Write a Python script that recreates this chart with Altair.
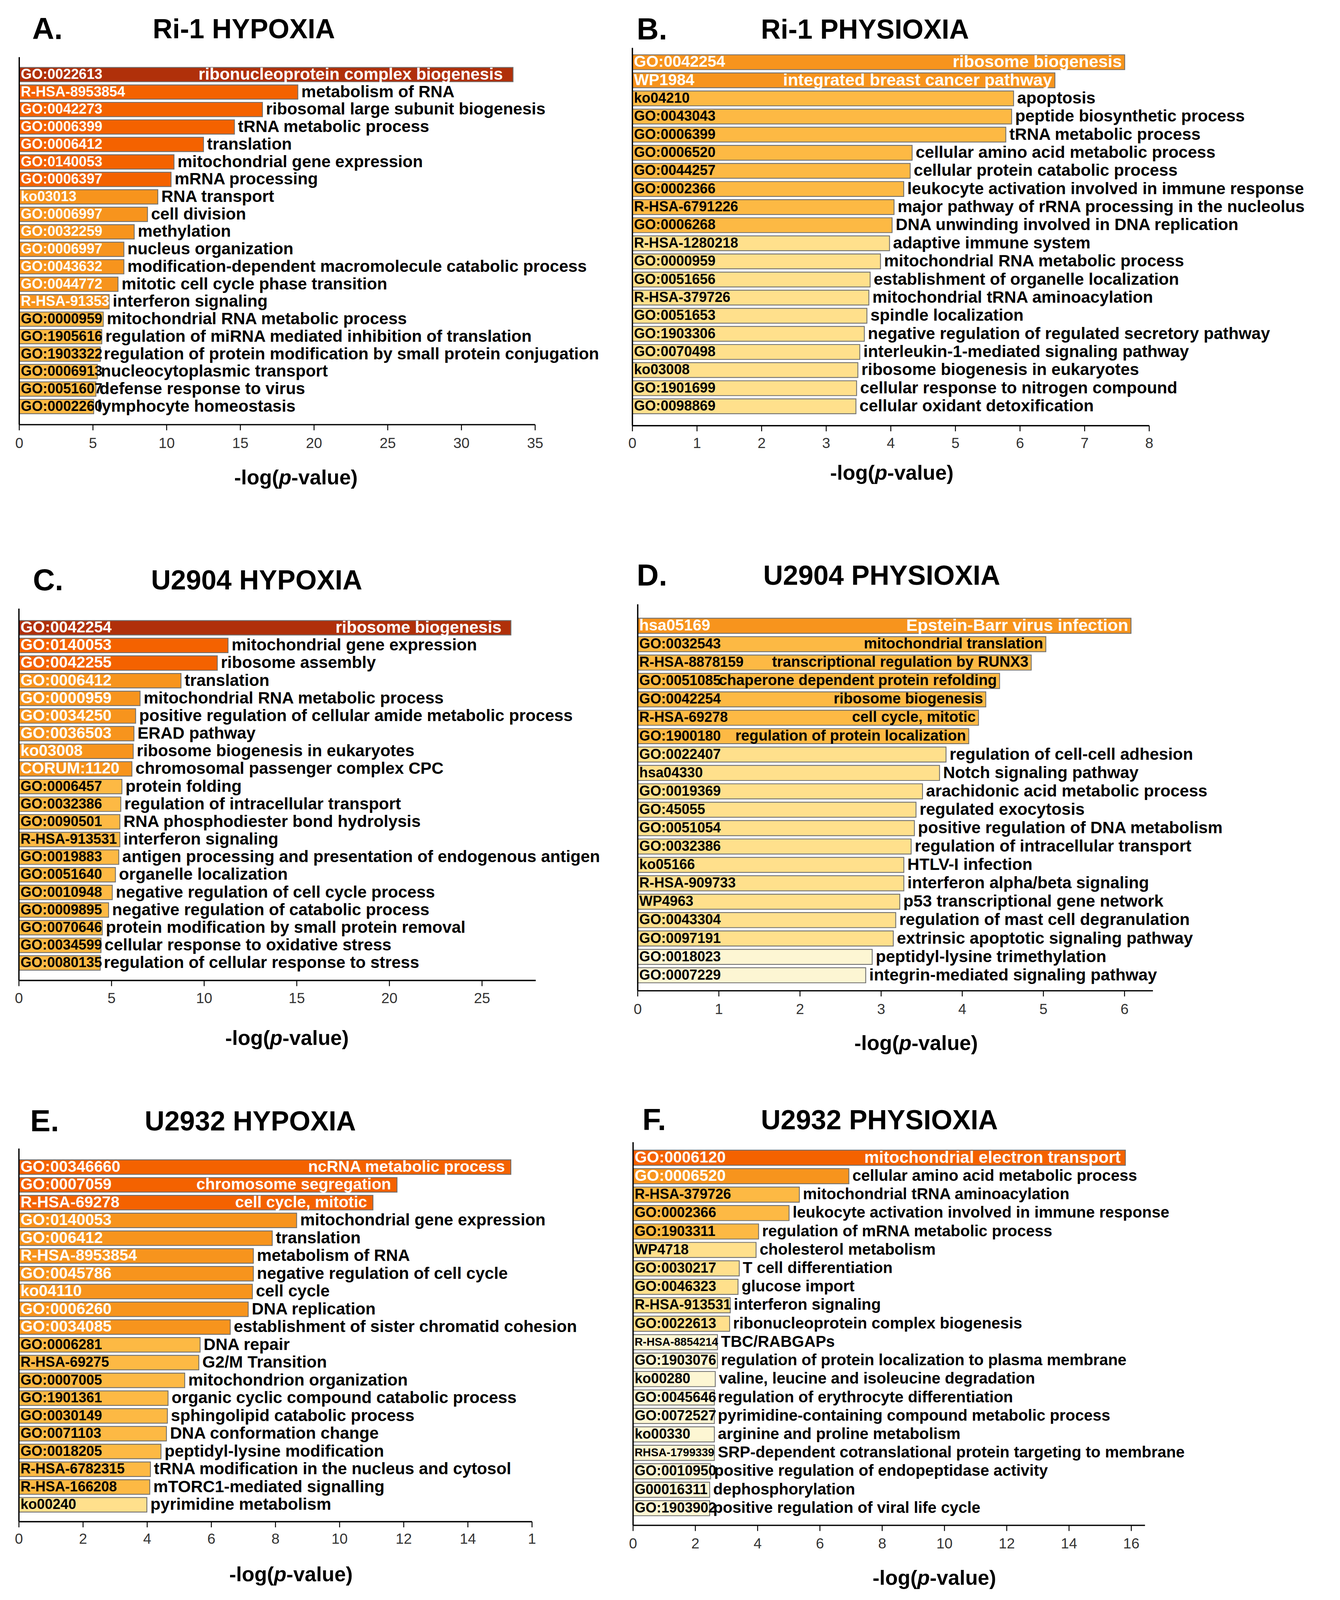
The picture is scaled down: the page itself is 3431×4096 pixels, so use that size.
import altair as alt
import pandas as pd

SC = 0.85


def px(v):
    return round(v * SC - 8, 2)


FONT = "Liberation Sans"
TIER_COLORS = ["#B0300A", "#F46200", "#F7941D", "#FDB944", "#FFE08C", "#FDF6D3"]

# ---------------- Panel A ----------------
A_letter, A_title = "A.", "Ri-1 HYPOXIA"
A_ids = ["GO:0022613", "R-HSA-8953854", "GO:0042273", "GO:0006399", "GO:0006412", "GO:0140053",
         "GO:0006397", "ko03013", "GO:0006997", "GO:0032259", "GO:0006997", "GO:0043632",
         "GO:0044772", "R-HSA-91353", "GO:0000959", "GO:1905616", "GO:1903322", "GO:0006913",
         "GO:0051607", "GO:0002260"]
A_terms = ["ribonucleoprotein complex biogenesis", "metabolism of RNA", "ribosomal large subunit biogenesis",
           "tRNA metabolic process", "translation", "mitochondrial gene expression", "mRNA processing",
           "RNA transport", "cell division", "methylation", "nucleus organization",
           "modification-dependent macromolecule catabolic process", "mitotic cell cycle phase transition",
           "interferon signaling", "mitochondrial RNA metabolic process",
           "regulation of miRNA mediated inhibition of translation",
           "regulation of protein modification by small protein conjugation", "nucleocytoplasmic transport",
           "defense response to virus", "lymphocyte homeostasis"]
A_vals = [33.5, 18.9, 16.5, 14.6, 12.5, 10.5, 10.3, 9.4, 8.7, 7.8, 7.1, 7.1, 6.7, 6.1, 5.7, 5.6, 5.5, 5.3, 5.2, 5.05]
A_tiers = [0, 1, 1, 1, 1, 1, 1, 2, 2, 2, 2, 2, 2, 2, 3, 3, 3, 3, 3, 3]
A_ticks = [0, 5, 10, 15, 20, 25, 30, 35]
A_tick_labels = ["0", "5", "10", "15", "20", "25", "30", "35"]

# ---------------- Panel B ----------------
B_letter, B_title = "B.", "Ri-1 PHYSIOXIA"
B_ids = ["GO:0042254", "WP1984", "ko04210", "GO:0043043", "GO:0006399", "GO:0006520", "GO:0044257",
         "GO:0002366", "R-HSA-6791226", "GO:0006268", "R-HSA-1280218", "GO:0000959", "GO:0051656",
         "R-HSA-379726", "GO:0051653", "GO:1903306", "GO:0070498", "ko03008", "GO:1901699", "GO:0098869"]
B_terms = ["ribosome biogenesis", "integrated breast cancer pathway", "apoptosis", "peptide biosynthetic process",
           "tRNA metabolic process", "cellular amino acid metabolic process", "cellular protein catabolic process",
           "leukocyte activation involved in immune response",
           "major pathway of rRNA processing in the nucleolus", "DNA unwinding involved in DNA replication",
           "adaptive immune system", "mitochondrial RNA metabolic process",
           "establishment of organelle localization", "mitochondrial tRNA aminoacylation", "spindle localization",
           "negative regulation of regulated secretory pathway", "interleukin-1-mediated signaling pathway",
           "ribosome biogenesis in eukaryotes", "cellular response to nitrogen compound",
           "cellular oxidant detoxification"]
B_vals = [7.62, 6.54, 5.90, 5.87, 5.78, 4.33, 4.30, 4.20, 4.05, 4.02, 3.98, 3.84, 3.68, 3.66, 3.63, 3.59,
          3.52, 3.49, 3.47, 3.46]
B_tiers = [2, 2, 3, 3, 3, 3, 3, 3, 3, 3, 4, 4, 4, 4, 4, 4, 4, 4, 4, 4]
B_ticks = [0, 1, 2, 3, 4, 5, 6, 7, 8]
B_tick_labels = ["0", "1", "2", "3", "4", "5", "6", "7", "8"]

# ---------------- Panel C ----------------
C_letter, C_title = "C.", "U2904 HYPOXIA"
C_ids = ["GO:0042254", "GO:0140053", "GO:0042255", "GO:0006412", "GO:0000959", "GO:0034250", "GO:0036503",
         "ko03008", "CORUM:1120", "GO:0006457", "GO:0032386", "GO:0090501", "R-HSA-913531", "GO:0019883",
         "GO:0051640", "GO:0010948", "GO:0009895", "GO:0070646", "GO:0034599", "GO:0080135"]
C_terms = ["ribosome biogenesis", "mitochondrial gene expression", "ribosome assembly", "translation",
           "mitochondrial RNA metabolic process", "positive regulation of cellular amide metabolic process",
           "ERAD pathway", "ribosome biogenesis in eukaryotes", "chromosomal passenger complex CPC",
           "protein folding", "regulation of intracellular transport", "RNA phosphodiester bond hydrolysis",
           "interferon signaling", "antigen processing and presentation of endogenous antigen",
           "organelle localization", "negative regulation of cell cycle process",
           "negative regulation of catabolic process", "protein modification by small protein removal",
           "cellular response to oxidative stress", "regulation of cellular response to stress"]
C_vals = [26.56, 11.29, 10.71, 8.75, 6.54, 6.30, 6.21, 6.17, 6.10, 5.56, 5.50, 5.45, 5.45, 5.39, 5.21,
          5.04, 4.84, 4.50, 4.43, 4.39]
C_tiers = [0, 1, 1, 2, 2, 2, 2, 2, 2, 3, 3, 3, 3, 3, 3, 3, 3, 3, 3, 3]
C_ticks = [0, 5, 10, 15, 20, 25]
C_tick_labels = ["0", "5", "10", "15", "20", "25"]

# ---------------- Panel D ----------------
D_letter, D_title = "D.", "U2904 PHYSIOXIA"
D_ids = ["hsa05169", "GO:0032543", "R-HSA-8878159", "GO:0051085", "GO:0042254", "R-HSA-69278",
         "GO:1900180", "GO:0022407", "hsa04330", "GO:0019369", "GO:45055", "GO:0051054", "GO:0032386",
         "ko05166", "R-HSA-909733", "WP4963", "GO:0043304", "GO:0097191", "GO:0018023", "GO:0007229"]
D_terms = ["Epstein-Barr virus infection", "mitochondrial translation", "transcriptional regulation by RUNX3",
           "chaperone dependent protein refolding", "ribosome biogenesis", "cell cycle, mitotic",
           "regulation of protein localization", "regulation of cell-cell adhesion", "Notch signaling pathway",
           "arachidonic acid metabolic process", "regulated exocytosis",
           "positive regulation of DNA metabolism", "regulation of intracellular transport",
           "HTLV-I infection", "interferon alpha/beta signaling", "p53 transcriptional gene network",
           "regulation of mast cell degranulation", "extrinsic apoptotic signaling pathway",
           "peptidyl-lysine trimethylation", "integrin-mediated signaling pathway"]
D_vals = [6.08, 5.03, 4.85, 4.46, 4.29, 4.20, 4.08, 3.80, 3.72, 3.51, 3.43, 3.41, 3.37, 3.28, 3.28, 3.23,
          3.18, 3.15, 2.89, 2.81]
D_tiers = [2, 3, 3, 3, 3, 3, 3, 4, 4, 4, 4, 4, 4, 4, 4, 4, 4, 4, 5, 5]
D_ticks = [0, 1, 2, 3, 4, 5, 6]
D_tick_labels = ["0", "1", "2", "3", "4", "5", "6"]

# ---------------- Panel E ----------------
E_letter, E_title = "E.", "U2932 HYPOXIA"
E_ids = ["GO:00346660", "GO:0007059", "R-HSA-69278", "GO:0140053", "GO:006412", "R-HSA-8953854",
         "GO:0045786", "ko04110", "GO:0006260", "GO:0034085", "GO:0006281", "R-HSA-69275", "GO:0007005",
         "GO:1901361", "GO:0030149", "GO:0071103", "GO:0018205", "R-HSA-6782315", "R-HSA-166208", "ko00240"]
E_terms = ["ncRNA metabolic process", "chromosome segregation", "cell cycle, mitotic",
           "mitochondrial gene expression", "translation", "metabolism of RNA",
           "negative regulation of cell cycle", "cell cycle", "DNA replication",
           "establishment of sister chromatid cohesion", "DNA repair", "G2/M Transition",
           "mitochondrion organization", "organic cyclic compound catabolic process",
           "sphingolipid catabolic process", "DNA conformation change", "peptidyl-lysine modification",
           "tRNA modification in the nucleus and cytosol", "mTORC1-mediated signalling",
           "pyrimidine metabolism"]
E_vals = [15.34, 11.79, 11.04, 8.66, 7.90, 7.31, 7.31, 7.28, 7.15, 6.59, 5.65, 5.61, 5.17, 4.65, 4.63,
          4.60, 4.43, 4.10, 4.08, 3.99]
E_tiers = [1, 1, 1, 2, 2, 2, 2, 2, 2, 2, 3, 3, 3, 3, 3, 3, 3, 3, 3, 4]
E_ticks = [0, 2, 4, 6, 8, 10, 12, 14, 16]
E_tick_labels = ["0", "2", "4", "6", "8", "10", "12", "14", "1"]

# ---------------- Panel F ----------------
F_letter, F_title = "F.", "U2932 PHYSIOXIA"
F_ids = ["GO:0006120", "GO:0006520", "R-HSA-379726", "GO:0002366", "GO:1903311", "WP4718", "GO:0030217",
         "GO:0046323", "R-HSA-913531", "GO:0022613", "R-HSA-8854214", "GO:1903076", "ko00280",
         "GO:0045646", "GO:0072527", "ko00330", "RHSA-1799339", "GO:0010950", "G00016311", "GO:1903902"]
F_terms = ["mitochondrial electron transport", "cellular amino acid metabolic process",
           "mitochondrial tRNA aminoacylation", "leukocyte activation involved in immune response",
           "regulation of mRNA metabolic process", "cholesterol metabolism", "T cell differentiation",
           "glucose import", "interferon signaling", "ribonucleoprotein complex biogenesis", "TBC/RABGAPs",
           "regulation of protein localization to plasma membrane",
           "valine, leucine and isoleucine degradation", "regulation of erythrocyte differentiation",
           "pyrimidine-containing compound metabolic process", "arginine and proline metabolism",
           "SRP-dependent cotranslational protein targeting to membrane",
           "positive regulation of endopeptidase activity", "dephosphorylation",
           "positive regulation of viral life cycle"]
F_vals = [15.81, 6.93, 5.34, 5.01, 4.03, 3.95, 3.41, 3.37, 3.12, 3.10, 2.71, 2.71, 2.64, 2.61, 2.61, 2.61,
          2.61, 2.49, 2.46, 2.46]
F_tiers = [1, 2, 3, 3, 3, 4, 4, 4, 4, 4, 5, 5, 5, 5, 5, 5, 5, 5, 5, 5]
F_ticks = [0, 2, 4, 6, 8, 10, 12, 14, 16]
F_tick_labels = ["0", "2", "4", "6", "8", "10", "12", "14", "16"]

# layout geometry of each panel, in reference pixels
GEOM = {
    "A": dict(x0=58, unit=44.4, xmax=35, r0=203, r1=1246, top=172, axis_y=1279, label_y=1337,
              tcx=891, tcy=1440, lx=97, hx=460, hy=91, n_inside=1, term=50, inside=50, inside_w=50,
              in_dx=-26, id_white=42.5, id_black=42.5),
    "B": dict(x0=1905, unit=194.6, xmax=8, r0=165, r1=1246, top=144, axis_y=1282, label_y=1337,
              tcx=2686, tcy=1426, lx=1918, hx=2292, hy=92, n_inside=2, term=50, inside=51, inside_w=51,
              in_dx=-7, id_white=47.5, id_black=42.5),
    "C": dict(x0=57, unit=55.8, xmax=27.9, r0=1869, r1=2922, top=1833, axis_y=2953, label_y=3008,
              tcx=864, tcy=3128, lx=99, hx=455, hy=1751, n_inside=1, term=50, inside=50, inside_w=50,
              in_dx=-24, id_white=47.5, id_black=42.5),
    "D": dict(x0=1921, unit=244.4, xmax=6.35, r0=1862, r1=2960, top=1820, axis_y=2984, label_y=3041,
              tcx=2759, tcy=3143, lx=1918, hx=2299, hy=1736, n_inside=7, term=50, inside=45, inside_w=51,
              in_dx=-7, id_white=47.5, id_black=42.5),
    "E": dict(x0=57, unit=96.6, xmax=16, r0=3493, r1=4554, top=3459, axis_y=4583, label_y=4637,
              tcx=876, tcy=4744, lx=91, hx=436, hy=3380, n_inside=3, term=50, inside=48, inside_w=48,
              in_dx=-15, id_white=47.5, id_black=42.5),
    "F": dict(x0=1907, unit=93.8, xmax=16.44, r0=3464, r1=4565, top=3440, axis_y=4594, label_y=4650,
              tcx=2814, tcy=4754, lx=1935, hx=2292, hy=3377, n_inside=1, term=47.5, inside=50, inside_w=50,
              in_dx=-12, id_white=47.5, id_black=42.5),
}
SMALL_IDS = {"R-HSA-8854214", "RHSA-1799339"}


def make_panel(key, letter, title, ids, terms, vals, tiers, ticks, tick_labels):
    g = GEOM[key]
    n = len(ids)
    rows = []
    for i in range(n):
        light = tiers[i] >= 3
        if ids[i] in SMALL_IDS:
            idsz = 34 * SC
        elif light:
            idsz = g["id_black"] * SC
        else:
            idsz = g["id_white"] * SC
        insz = (g["inside"] if light else g["inside_w"]) * SC
        rows.append(dict(rank=i, id=ids[i], term=terms[i], val=vals[i], tier=tiers[i],
                         tcol="#000000" if light else "#ffffff", idsz=idsz, insz=insz,
                         inside=i < g["n_inside"]))
    df = pd.DataFrame(rows)

    xsc = alt.Scale(domain=[0, g["xmax"]],
                    range=[px(g["x0"]), px(g["x0"] + g["xmax"] * g["unit"])], nice=False, zero=False)
    ysc = alt.Scale(domain=list(range(n)), range=[px(g["r0"]), px(g["r1"])],
                    paddingInner=0.18, paddingOuter=0)
    Y = alt.Y("rank:O", scale=ysc, axis=None)
    base = alt.Chart(df)

    bars = base.mark_bar(stroke="#6e6e6e", strokeWidth=2.2).encode(
        x=alt.X("val:Q", scale=xsc, axis=None),
        x2=alt.X2Datum(0),
        y=Y,
        color=alt.Color("tier:O", scale=alt.Scale(domain=list(range(6)), range=TIER_COLORS), legend=None),
    )
    id_text = base.mark_text(align="left", baseline="middle", dx=4, font=FONT, fontWeight="bold").encode(
        x=alt.XDatum(0, scale=xsc, axis=None),
        y=Y,
        text="id:N",
        color=alt.Color("tcol:N", scale=None),
        size=alt.Size("idsz:Q", scale=None),
    )
    term_out = base.transform_filter("!datum.inside").mark_text(
        align="left", baseline="middle", dx=9, font=FONT, fontWeight="bold",
        fontSize=g["term"] * SC, color="black").encode(
        x=alt.X("val:Q", scale=xsc, axis=None), y=Y, text="term:N")
    term_in = base.transform_filter("datum.inside").mark_text(
        align="right", baseline="middle", dx=g["in_dx"], font=FONT, fontWeight="bold").encode(
        x=alt.X("val:Q", scale=xsc, axis=None), y=Y, text="term:N",
        color=alt.Color("tcol:N", scale=None),
        size=alt.Size("insz:Q", scale=None))

    one = pd.DataFrame({"a": [0]})
    yaxis = alt.Chart(one).mark_rule(color="black", strokeWidth=3.4).encode(
        x=alt.XDatum(0, scale=xsc, axis=None),
        y=alt.value(px(g["top"])), y2=alt.value(px(g["axis_y"])))
    xaxis = alt.Chart(one).mark_rule(color="black", strokeWidth=3.4).encode(
        x=alt.XDatum(0, scale=xsc, axis=None), x2=alt.X2Datum(g["xmax"]),
        y=alt.value(px(g["axis_y"])))
    tdf = pd.DataFrame({"t": ticks, "lab": tick_labels})
    tick_marks = alt.Chart(tdf).mark_rule(color="black", strokeWidth=2.4).encode(
        x=alt.X("t:Q", scale=xsc, axis=None),
        y=alt.value(px(g["axis_y"])), y2=alt.value(px(g["axis_y"] + 17)))
    tick_text = alt.Chart(tdf).mark_text(align="center", baseline="middle", font=FONT,
                                         fontSize=44 * SC, color="#333333").encode(
        x=alt.X("t:Q", scale=xsc, axis=None), y=alt.value(px(g["label_y"])), text="lab:N")

    # axis title "-log(p-value)" with italic p
    fs = 62 * SC
    pw = 0.611 * fs
    cp = px(g["tcx"]) - 27 * (fs / 52)
    ty = px(g["tcy"])
    t1 = alt.Chart(one).mark_text(align="right", baseline="middle", font=FONT, fontWeight="bold",
                                  fontSize=fs, color="black").encode(
        x=alt.value(cp - pw / 2), y=alt.value(ty), text=alt.value("-log("))
    t2 = alt.Chart(one).mark_text(align="center", baseline="middle", font=FONT, fontWeight="bold",
                                  fontStyle="italic", fontSize=fs, color="black").encode(
        x=alt.value(cp), y=alt.value(ty), text=alt.value("p"))
    t3 = alt.Chart(one).mark_text(align="left", baseline="middle", font=FONT, fontWeight="bold",
                                  fontSize=fs, color="black").encode(
        x=alt.value(cp + pw / 2), y=alt.value(ty), text=alt.value("-value)"))

    h1 = alt.Chart(one).mark_text(align="left", baseline="middle", font=FONT, fontWeight="bold",
                                  fontSize=78, color="black").encode(
        x=alt.value(px(g["lx"])), y=alt.value(px(g["hy"])), text=alt.value(letter))
    h2 = alt.Chart(one).mark_text(align="left", baseline="middle", font=FONT, fontWeight="bold",
                                  fontSize=70, color="black").encode(
        x=alt.value(px(g["hx"])), y=alt.value(px(g["hy"])), text=alt.value(title))

    return alt.layer(bars, id_text, term_out, term_in, yaxis, xaxis, tick_marks, tick_text,
                     t1, t2, t3, h1, h2)


panels = [
    make_panel("A", A_letter, A_title, A_ids, A_terms, A_vals, A_tiers, A_ticks, A_tick_labels),
    make_panel("B", B_letter, B_title, B_ids, B_terms, B_vals, B_tiers, B_ticks, B_tick_labels),
    make_panel("C", C_letter, C_title, C_ids, C_terms, C_vals, C_tiers, C_ticks, C_tick_labels),
    make_panel("D", D_letter, D_title, D_ids, D_terms, D_vals, D_tiers, D_ticks, D_tick_labels),
    make_panel("E", E_letter, E_title, E_ids, E_terms, E_vals, E_tiers, E_ticks, E_tick_labels),
    make_panel("F", F_letter, F_title, F_ids, F_terms, F_vals, F_tiers, F_ticks, F_tick_labels),
]

chart = alt.layer(*panels).resolve_scale(x="independent", y="independent").properties(
    width=3410, height=4070, padding=0, autosize=alt.AutoSizeParams(type="none"),
    background="white",
).configure_view(stroke=None)

chart.save("out.html", embed_options={"renderer": "svg", "actions": False})
